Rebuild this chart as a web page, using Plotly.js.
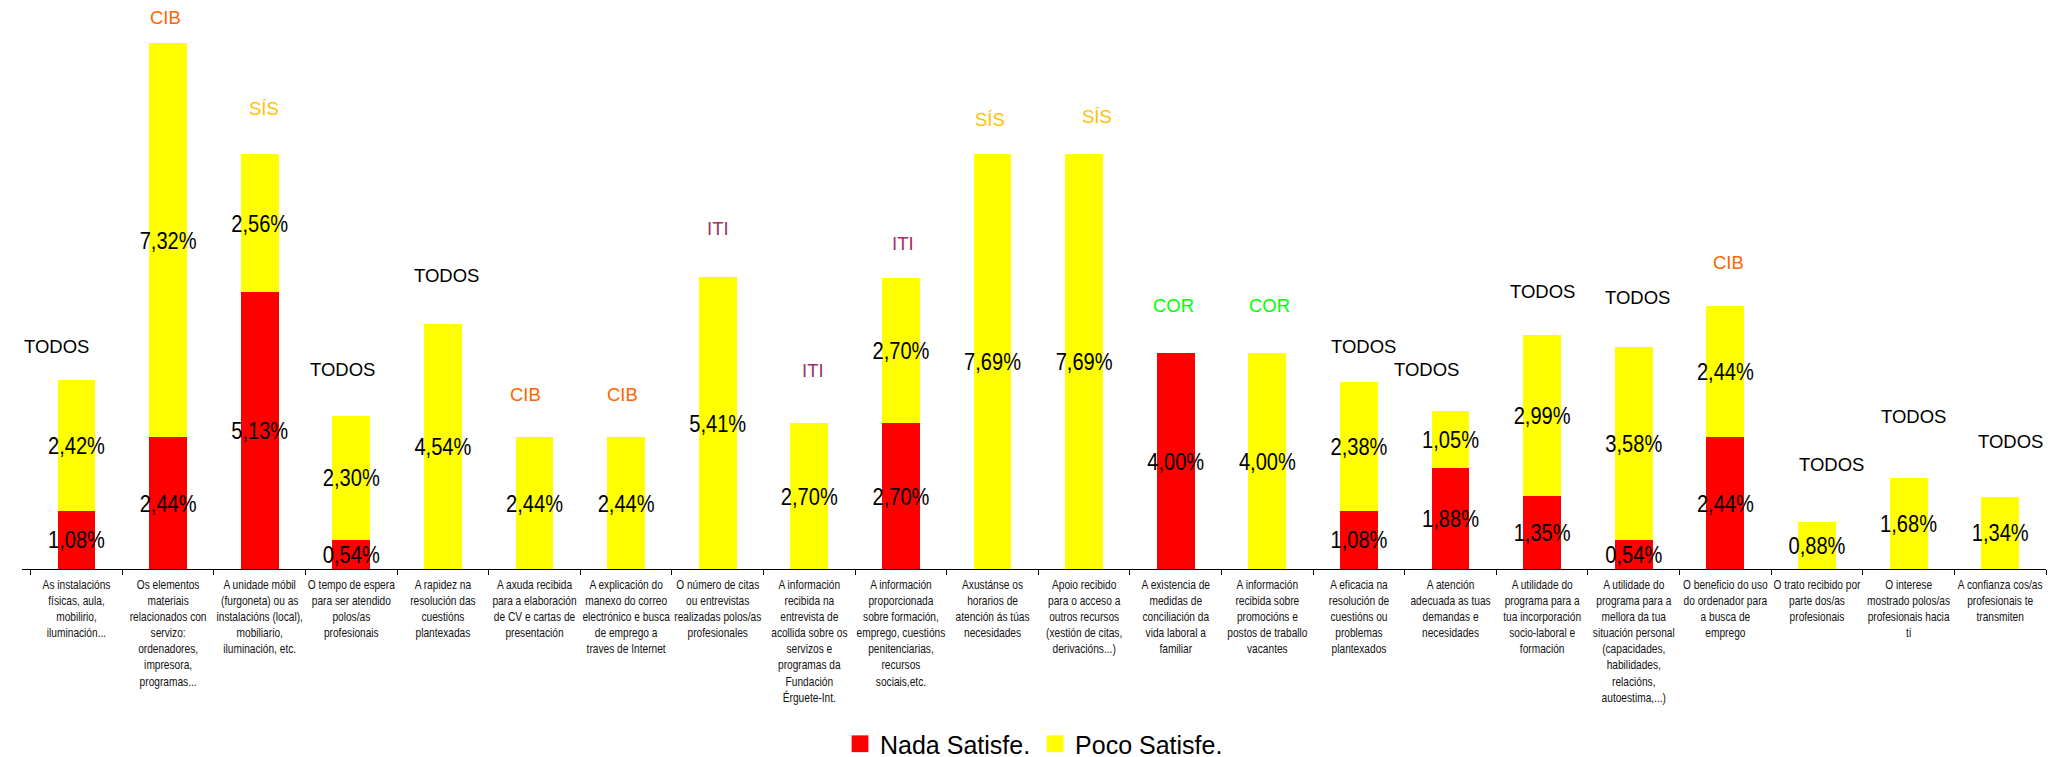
<!DOCTYPE html>
<html>
<head>
<meta charset="utf-8">
<script src="https://cdn.plot.ly/plotly-3.0.1.min.js"></script>
<style>html,body{margin:0;padding:0;background:#fff;}#chart{width:2048px;height:757px;}</style>
</head>
<body>
<div id="chart"></div>
<script>
const categories = [
  "As instalacións<br>físicas, aula,<br>mobilirio,<br>iluminación...",
  "Os elementos<br>materiais<br>relacionados con<br>servizo:<br>ordenadores,<br>impresora,<br>programas...",
  "A unidade móbil<br>(furgoneta) ou as<br>instalacións (local),<br>mobiliario,<br>iluminación, etc.",
  "O tempo de espera<br>para ser atendido<br>polos/as<br>profesionais",
  "A rapidez na<br>resolución das<br>cuestións<br>plantexadas",
  "A axuda recibida<br>para a elaboración<br>de CV e cartas de<br>presentación",
  "A explicación do<br>manexo do correo<br>electrónico e busca<br>de emprego a<br>traves de Internet",
  "O número de citas<br>ou entrevistas<br>realizadas polos/as<br>profesionales",
  "A información<br>recibida na<br>entrevista de<br>acollida sobre os<br>servizos e<br>programas da<br>Fundación<br>Érguete-Int.",
  "A información<br>proporcionada<br>sobre formación,<br>emprego, cuestións<br>penitenciarias,<br>recursos<br>sociais,etc.",
  "Axustánse os<br>horarios de<br>atención ás túas<br>necesidades",
  "Apoio recibido<br>para o acceso a<br>outros recursos<br>(xestión de citas,<br>derivacións...)",
  "A existencia de<br>medidas de<br>conciliación da<br>vida laboral a<br>familiar",
  "A información<br>recibida sobre<br>promocións e<br>postos de traballo<br>vacantes",
  "A eficacia na<br>resolución de<br>cuestións ou<br>problemas<br>plantexados",
  "A atención<br>adecuada as tuas<br>demandas e<br>necesidades",
  "A utilidade do<br>programa para a<br>tua incorporación<br>socio-laboral e<br>formación",
  "A utilidade do<br>programa para a<br>mellora da tua<br>situación personal<br>(capacidades,<br>habilidades,<br>relacións,<br>autoestima,...)",
  "O beneficio do uso<br>do ordenador para<br>a busca de<br>emprego",
  "O trato recibido por<br>parte dos/as<br>profesionais",
  "O interese<br>mostrado polos/as<br>profesionais hacia<br>ti",
  "A confianza cos/as<br>profesionais te<br>transmiten"
];

const nadaSatisfe = [1.08, 2.44, 5.13, 0.54, null, null, null, null, null, 2.70, null, null, 4.00, null, 1.08, 1.88, 1.35, 0.54, 2.44, null, null, null];
const pocoSatisfe = [2.42, 7.32, 2.56, 2.30, 4.54, 2.44, 2.44, 5.41, 2.70, 2.70, 7.69, 7.69, null, 4.00, 2.38, 1.05, 2.99, 3.58, 2.44, 0.88, 1.68, 1.34];

const groupTags = ["TODOS","CIB","SÍS","TODOS","TODOS","CIB","CIB","ITI","ITI","ITI","SÍS","SÍS","COR","COR","TODOS","TODOS","TODOS","TODOS","CIB","TODOS","TODOS","TODOS"];

const seriesNames = ["Nada Satisfe.", "Poco Satisfe."];

// styling / placement (not data)
const tagColors = {"TODOS":"#000000","CIB":"#FF6600","SÍS":"#FFC000","ITI":"#993366","COR":"#00FF00"};
const tagDx = [-20,-3,4,-9,4,-9,-4,0,4,2,-3,13,-2,2,5,-24,0,4,3,15,5,10];
const tagDy = [34,25,46,46,49,43,43,49,53,34,35,38,48,48,36,41,43,49,43,57,62,55];

const regular = "'Liberation Sans', Arial, sans-serif";

const commonBar = {
  type: 'bar',
  x: categories,
  texttemplate: '%{y:.2f}%',
  textposition: 'inside',
  insidetextanchor: 'middle',
  constraintext: 'none',
  textangle: 0,
  textfont: {family: regular, size: 24.5, color: '#000'},
  cliponaxis: false,
  hoverinfo: 'skip'
};

const traces = [
  Object.assign({}, commonBar, {name: seriesNames[0], y: nadaSatisfe, marker: {color: '#FF0000', line: {width: 0}}}),
  Object.assign({}, commonBar, {name: seriesNames[1], y: pocoSatisfe, marker: {color: '#FFFF00', line: {width: 0}}})
];

const annotations = groupTags.map((t, i) => ({
  x: i,
  y: (nadaSatisfe[i] || 0) + (pocoSatisfe[i] || 0),
  xref: 'x', yref: 'y',
  text: t,
  showarrow: false,
  xanchor: 'center', yanchor: 'middle',
  xshift: tagDx[i], yshift: tagDy[i],
  font: {family: regular, size: 18.5, color: tagColors[t]}
}));

const layout = {
  width: 2048, height: 757,
  margin: {l: 22, r: 2, t: 0, b: 180, pad: 0},
  paper_bgcolor: '#fff', plot_bgcolor: '#fff',
  barmode: 'stack',
  bargap: 0.587,
  separators: ',.',
  showlegend: true,
  legend: {
    orientation: 'h', x: 0.5, xanchor: 'center', y: -0.29, yanchor: 'middle',
    font: {family: regular, size: 25, color: '#000'},
    traceorder: 'normal', itemclick: false
  },
  xaxis: {
    type: 'category',
    showline: true, linecolor: '#000', linewidth: 1,
    ticks: 'outside', tickson: 'boundaries', ticklen: 5, tickcolor: '#000',
    ticklabelstandoff: 4,
    tickfont: {family: regular, size: 12.4, color: '#111'},
    tickangle: 0, automargin: false, showgrid: false, zeroline: false,
    fixedrange: true
  },
  yaxis: {
    range: [0, 10.55], visible: false, showgrid: false, zeroline: false, fixedrange: true
  },
  annotations: annotations,
  font: {family: regular}
};

// horizontally condense text (the reference uses a narrow face)
function squeeze(selector, s) {
  document.querySelectorAll(selector).forEach(el => {
    const bb = el.getBBox();
    const cx = bb.x + bb.width / 2;
    const t = el.getAttribute('transform') || '';
    el.setAttribute('transform', t + ' translate(' + cx + ',0) scale(' + s + ',1) translate(' + (-cx) + ',0)');
  });
}

Plotly.newPlot('chart', traces, layout, {displayModeBar: false, staticPlot: true}).then(() => {
  squeeze('#chart .xtick text', 0.82);
  squeeze('#chart text.bartext', 0.82);
  document.querySelectorAll('#chart .legendpoints path').forEach(p => {
    const t = p.getAttribute('transform') || '';
    p.setAttribute('transform', t + ' scale(1.4)');
  });
  document.querySelectorAll('#chart g.legend').forEach(g => {
    const t = g.getAttribute('transform') || '';
    g.setAttribute('transform', t + ' translate(0,10)');
  });
});
</script>
</body>
</html>
